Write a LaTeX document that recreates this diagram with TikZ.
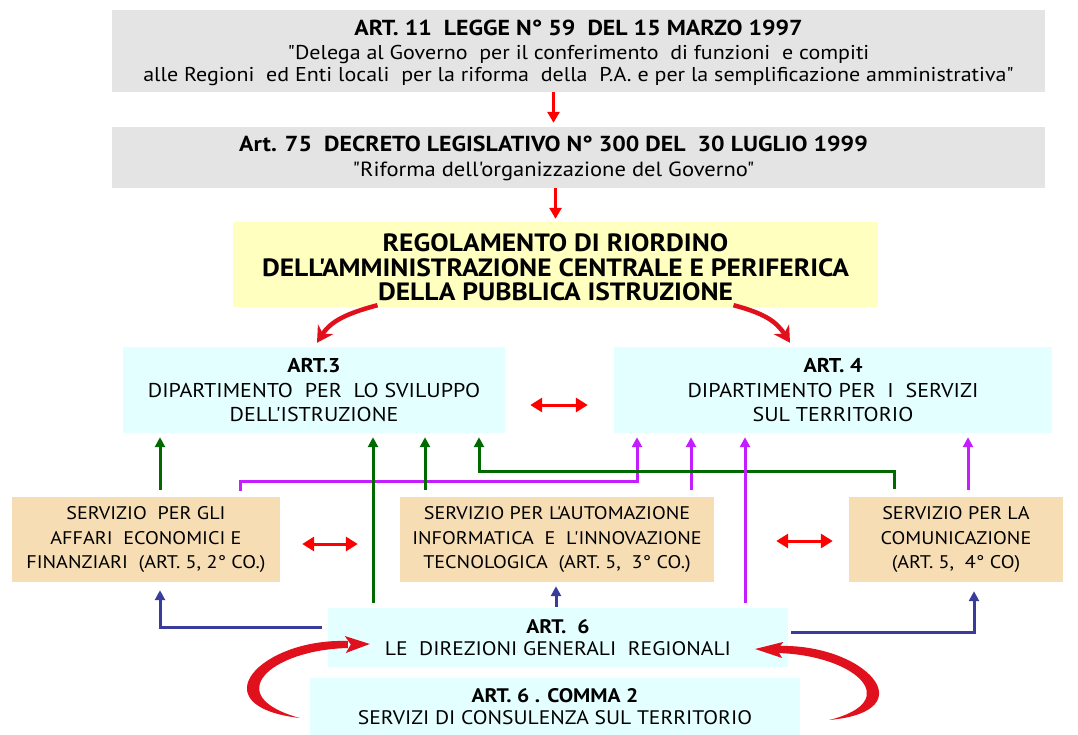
\documentclass[tikz,border=0pt]{standalone}
\usepackage{fontspec}
\setmainfont{PT Sans}[Ligatures=TeXOff, FakeStretch=1.1]
\usetikzlibrary{arrows.meta,calc}
\definecolor{boxgray}{HTML}{E4E4E4}
\definecolor{boxyellow}{HTML}{FFFFC0}
\definecolor{boxcyan}{HTML}{E4FFFF}
\definecolor{boxorange}{HTML}{F6DDB4}
\definecolor{lgreen}{HTML}{006A00}
\definecolor{lmag}{HTML}{C41EFF}
\definecolor{lblue}{HTML}{3A3C9C}
\definecolor{lred}{HTML}{FF0000}
\definecolor{cred}{HTML}{E0101C}
\begin{document}
\begin{tikzpicture}[x=1pt,y=-1pt,
  box/.style={rectangle, inner sep=0pt, align=center, anchor=center},
  txt/.style={inner sep=0pt, align=center, anchor=center},
  graybox/.style={box, fill=boxgray, minimum width=933pt},
  yellowbox/.style={box, fill=boxyellow},
  cyanbox/.style={box, fill=boxcyan},
  orangebox/.style={box, fill=boxorange, minimum height=85pt, font=\fontsize{18.3}{24.5}\selectfont},
  garrow/.style={draw=lgreen, line width=3pt, -{Triangle[length=10pt,width=10pt]}},
  marrow/.style={draw=lmag, line width=3pt, -{Triangle[length=10pt,width=10pt]}},
  barrow/.style={draw=lblue, line width=3pt, -{Triangle[length=10pt,width=10pt]}},
  rarrow/.style={draw=lred, line width=3pt, -{Triangle[length=11pt,width=12pt]}},
  rdarrow/.style={draw=lred, line width=3pt, {Triangle[length=12pt,width=14pt]}-{Triangle[length=12pt,width=14pt]}},
  carrow/.style={draw=cred, line width=4.5pt, -{Stealth[length=16pt,width=18pt]}},
]
\useasboundingbox[fill=white] (0,0) rectangle (1078,735);

% boxes
\node[graybox, minimum height=82pt] (b1) at (578.5,51) {};
\node[txt, font=\fontsize{20}{22}\selectfont] (b1t) at ([yshift=-2pt]b1.center)
  {{\bfseries\fontsize{21.7}{24}\selectfont ART. 11~ LEGGE N° 59~ DEL 15 MARZO 1997}\\[2pt]
   "Delega al Governo~ per il conferimento~ di funzioni~ e compiti\\
   alle Regioni~ ed Enti locali~ per la riforma~ della~ P.A. e per la semplificazione amministrativa"};
\node[graybox, minimum height=61pt] (b2) at (578.5,157.5) {};
\node[txt, font=\fontsize{20.5}{22}\selectfont] (b2t) at ([xshift=-25pt,yshift=-1pt]b2.center)
  {{\bfseries\fontsize{21.7}{24}\selectfont Art. 75~ DECRETO LEGISLATIVO N° 300 DEL~ 30 LUGLIO 1999}\\[3pt]
   "Riforma dell'organizzazione del Governo"};
\node[yellowbox, minimum width=645pt, minimum height=85pt] (b3) at (555.5,264.5) {};
\node[txt, font=\bfseries\fontsize{25}{24.5}\selectfont] (b3t) at ([yshift=-3pt]b3.center)
  {REGOLAMENTO DI RIORDINO\\ DELL'AMMINISTRAZIONE CENTRALE E PERIFERICA\\ DELLA PUBBLICA ISTRUZIONE};
\node[cyanbox, minimum width=382pt, minimum height=86pt, font=\fontsize{20}{24}\selectfont] (b4) at (314,390)
  {{\bfseries ART.3}\\[1pt] DIPARTIMENTO~ PER~ LO SVILUPPO\\ DELL'ISTRUZIONE};
\node[cyanbox, minimum width=438pt, minimum height=86pt, font=\fontsize{20}{24}\selectfont] (b5) at (833,390)
  {{\bfseries ART. 4}\\[1pt] DIPARTIMENTO PER~ I~ SERVIZI\\ SUL TERRITORIO};
\node[orangebox, minimum width=268pt] (b6) at (146,539.5)
  {SERVIZIO~ PER GLI\\ AFFARI~ ECONOMICI E\\ FINANZIARI~ (ART. 5, 2° CO.)};
\node[orangebox, minimum width=314pt] (b7) at (557,539.5)
  {SERVIZIO PER L'AUTOMAZIONE\\ INFORMATICA~ E~ L'INNOVAZIONE\\ TECNOLOGICA~ (ART. 5,~ 3° CO.)};
\node[orangebox, minimum width=214pt] (b8) at (956,539.5)
  {SERVIZIO PER LA\\ COMUNICAZIONE\\ (ART. 5,~ 4° CO)};
\node[cyanbox, minimum width=460pt, minimum height=59pt, font=\fontsize{19.6}{22}\selectfont] (b9) at (558,637.5)
  {{\bfseries ART.~ 6}\\ LE~ DIREZIONI GENERALI~ REGIONALI};
\node[cyanbox, minimum width=490pt, minimum height=57pt, font=\fontsize{19.6}{22}\selectfont] (b10) at (555,706.5)
  {{\bfseries ART. 6 . COMMA 2}\\ SERVIZI DI CONSULENZA SUL TERRITORIO};

% red straight arrows
\draw[rarrow, shorten >=4pt] ([xshift=-25pt]b1.south) -- ([xshift=-25pt]b1.south |- b2.north);
\draw[rarrow, shorten >=3pt] (b3.north |- b2.south) -- (b3.north);

% curved arrows from regolamento
\draw[carrow] ([xshift=-178pt,yshift=2pt]b3.south) .. controls +(-30,8) and +(14,-22) .. ([xshift=3pt,yshift=4pt]b4.north);
\draw[carrow] ([xshift=178pt,yshift=2pt]b3.south) .. controls +(30,8) and +(-14,-22) .. ([xshift=-43pt,yshift=4pt]b5.north);

% double red arrows
\draw[rdarrow, shorten <=25pt, shorten >=26pt] ([yshift=-15pt]b4.east) -- ([yshift=-15pt]b4.east -| b5.west);
\draw[rdarrow, shorten <=22pt, shorten >=42pt] ([yshift=-4.5pt]b6.east) -- ([yshift=-4.5pt]b6.east -| b7.west);
\draw[rdarrow, shorten <=62pt, shorten >=16pt] ([yshift=-1.5pt]b7.east) -- ([yshift=-1.5pt]b7.east -| b8.west);

% magenta arrows to ART.4
\draw[marrow, shorten <=6pt, shorten >=4pt] ([xshift=94pt]b6.north) -- ++(0,-15) -| ([xshift=-196pt]b5.south);
\draw[marrow, shorten <=7pt, shorten >=4pt] ([xshift=134pt]b7.north) -- ([xshift=134pt]b7.north |- b5.south);
\draw[marrow, shorten <=7pt, shorten >=4pt] ([xshift=12pt]b8.north) -- ([xshift=12pt]b8.north |- b5.south);

% green arrows to ART.3
\draw[garrow, shorten <=7pt, shorten >=4pt] ([xshift=14pt]b6.north) -- ([xshift=14pt]b6.north |- b4.south);
\draw[garrow, shorten <=7pt, shorten >=4pt] ([xshift=-132pt]b7.north) -- ([xshift=-132pt]b7.north |- b4.south);
\draw[garrow, shorten <=8pt, shorten >=4pt] ([xshift=-62pt]b8.north) -- ++(0,-25) -| ([xshift=165pt]b4.south);
\draw[garrow, shorten <=5pt, shorten >=4pt] ([xshift=-185pt]b9.north) -- ([xshift=-185pt]b9.north |- b4.south);
\draw[marrow, shorten <=5pt, shorten >=4pt] ([xshift=187pt]b9.north) -- ([xshift=187pt]b9.north |- b5.south);

% blue arrows from ART.6
\draw[barrow, shorten <=6pt, shorten >=8pt] ([yshift=10pt]b9.west) -| ([xshift=14pt]b6.south);
\draw[barrow, shorten <=1pt, shorten >=4pt] ([xshift=-2pt]b9.north) -- ([xshift=-2pt]b9.north |- b7.south);
\draw[barrow, shorten <=3pt, shorten >=9pt] ([yshift=5pt]b9.east) -| ([xshift=18pt]b8.south);

% crescent arrows from ART.6 comma 2 to ART.6
\coordinate (tl) at ([xshift=42pt,yshift=-6.5pt]b9.west);
\coordinate (tr) at ([xshift=-33pt,yshift=-11.5pt]b9.east);
\begin{scope}[shift={(tl)}]
  \fill[cred] (-22,-3) .. controls (-110,-6) and (-172,62) .. (-70,74)
              .. controls (-150,52) and (-100,6) .. (-22,4) -- cycle;
  \fill[cred] (0,0) -- (-25,-8) -- (-19,0.5) -- (-24,9) -- cycle;
\end{scope}
\begin{scope}[shift={(tr)}]
  \fill[cred] (22,-3) .. controls (110,-6) and (172,62) .. (74,71)
              .. controls (150,52) and (100,6) .. (22,4) -- cycle;
  \fill[cred] (0,0) -- (28,-7) -- (22,1) -- (27,9) -- cycle;
\end{scope}
\end{tikzpicture}
\end{document}
